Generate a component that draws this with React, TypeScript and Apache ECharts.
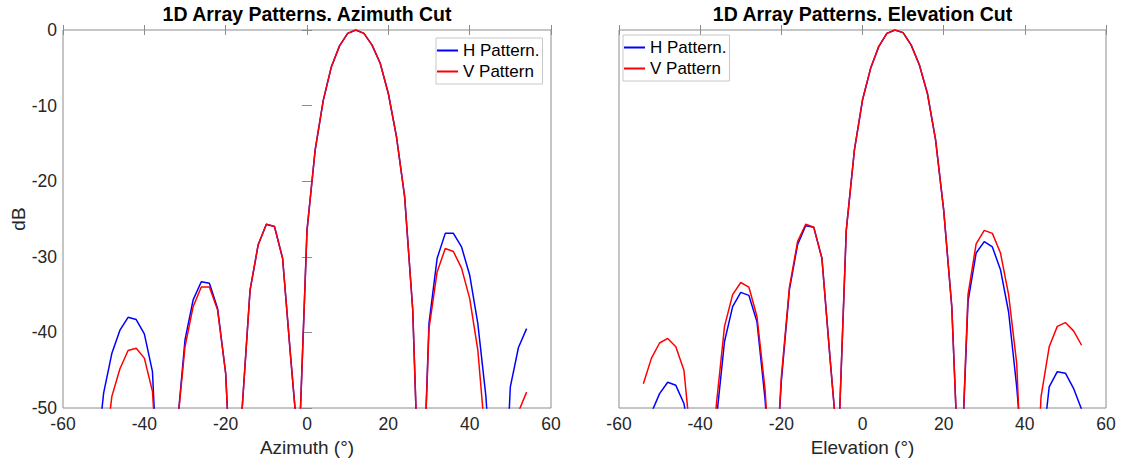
import React, { useEffect, useRef } from "react";
import * as echarts from "echarts";

const ANGLES = [-54, -52, -50, -48, -46, -44, -42, -40, -38, -36, -34, -32, -30, -28, -26, -24, -22, -20, -18, -16, -14, -12, -10, -8, -6, -4, -2, 0, 2, 4, 6, 8, 10, 12, 14, 16, 18, 20, 22, 24, 26, 28, 30, 32, 34, 36, 38, 40, 42, 44, 46, 48, 50, 52, 54];

const AZ_H = [-62, -58, -48, -42.8, -39.7, -38, -38.3, -40.2, -45.2, -68, -60, -53, -41, -35.7, -33.3, -33.5, -36.8, -45.4, -68, -50.5, -34.4, -28.4, -25.7, -26, -30.2, -43.4, -56, -26.5, -15.9, -9.3, -4.85, -2.1, -0.44, 0, -0.44, -2, -4.4, -8.4, -14.1, -22, -37, -70, -38.8, -30.2, -26.9, -26.9, -28.7, -32.4, -38.8, -48.5, -65, -70, -47.2, -42, -39.5];
const AZ_V = [-70, -65, -58, -48.5, -44.8, -42.4, -42.1, -43.4, -47.8, -65, -60, -53, -41.9, -36.6, -34, -34, -37, -45.4, -68, -50.5, -34.4, -28.4, -25.7, -26, -30.2, -43.4, -56, -26.5, -15.9, -9.3, -4.85, -2.1, -0.44, 0, -0.44, -2, -4.4, -8.4, -14.1, -22, -37, -70, -39.5, -32, -28.9, -29.3, -31.5, -35.5, -42.3, -55, -65, -70, -62, -50.5, -47.9];
const EL_H = [-55, -50.6, -48.1, -46.6, -47, -49.4, -55.4, -65, -62, -51.5, -41.2, -36.6, -34.7, -35.1, -38.6, -48.9, -65, -46.5, -34.3, -28.4, -25.9, -26.1, -30.2, -43.4, -56, -26.5, -15.9, -9.26, -5.07, -2.2, -0.44, 0, -0.35, -2, -4.6, -8.4, -14.5, -23.8, -36.6, -63, -35.9, -29.5, -28, -28.7, -31.7, -37.3, -47.2, -60, -70, -57, -47.2, -45.2, -45.4, -47.4, -50.2];
const EL_V = [-46.8, -43.4, -41.4, -40.8, -41.9, -45, -56, -65, -62, -49.5, -39.2, -35, -33.4, -34, -37.9, -47.6, -65, -45.9, -34, -28, -25.7, -26.1, -30.2, -43.4, -56, -26.5, -15.9, -9.26, -5.07, -2.2, -0.44, 0, -0.35, -2, -4.6, -8.4, -14.5, -23.8, -36.6, -63, -35, -28.3, -26.5, -26.9, -29.5, -35, -44.1, -70, -70, -48.5, -41.9, -39.2, -38.7, -39.8, -41.7];

const TITLES = ["1D Array Patterns. Azimuth Cut", "1D Array Patterns. Elevation Cut"];
const X_NAMES = ["Azimuth (°)", "Elevation (°)"];
const Y_NAME = "dB";
const SERIES_NAMES = ["H Pattern.", "V Pattern"];

const FONT = "'Liberation Sans', Arial, Helvetica, sans-serif";
const AXIS_GRAY = "#8c8c8c";
const TEXT = "#262626";

export default function App() {
  const ref = useRef<HTMLDivElement>(null);
  useEffect(() => {
    if (!ref.current) return;
    const chart = echarts.init(ref.current, undefined, { renderer: "svg" });
    const grids = [
      { left: 63, top: 30, width: 488, height: 378 },
      { left: 619, top: 30, width: 487, height: 378 },
    ];
    const xAxes: any[] = [];
    const yAxes: any[] = [];
    grids.forEach((_, g) => {
      xAxes.push({
        type: "value", gridIndex: g, min: -60, max: 60, interval: 20, position: "bottom",
        axisLine: { show: false },
        axisTick: { show: true, inside: true, length: 5, lineStyle: { color: AXIS_GRAY } },
        axisLabel: { color: TEXT, fontSize: 17.5, fontFamily: FONT, margin: 7 },
        splitLine: { show: false },
        name: X_NAMES[g], nameLocation: "middle", nameGap: 28,
        nameTextStyle: { color: TEXT, fontSize: 19, fontFamily: FONT },
      });
      xAxes.push({
        type: "value", gridIndex: g, min: -60, max: 60, interval: 20, position: "top",
        axisLine: { show: false },
        axisTick: { show: true, inside: true, length: 5, lineStyle: { color: AXIS_GRAY } },
        axisLabel: { show: false }, splitLine: { show: false },
      });
      yAxes.push({
        type: "value", gridIndex: g, min: -50, max: 0, interval: 10, position: "left",
        axisLine: { show: false },
        axisTick: { show: g === 0, inside: true, length: 5, lineStyle: { color: AXIS_GRAY } },
        axisLabel: { show: g === 0, color: TEXT, fontSize: 17.5, fontFamily: FONT, margin: 6 },
        splitLine: { show: false },
        name: g === 0 ? Y_NAME : "", nameLocation: "middle", nameGap: 33,
        nameTextStyle: { color: TEXT, fontSize: 19, fontFamily: FONT },
      });
      yAxes.push({
        type: "value", gridIndex: g, min: -50, max: 0, interval: 10, position: "right",
        axisLine: { show: false },
        axisTick: { show: g === 0, inside: true, length: 5, lineStyle: { color: AXIS_GRAY } },
        axisLabel: { show: false }, splitLine: { show: false },
      });
    });
    const mk = (vals: number[]) => ANGLES.map((a, i) => [a, vals[i]]);
    const lineSeries = (name: string, color: string, vals: number[], g: number) => ({
      type: "line", name, xAxisIndex: g * 2, yAxisIndex: g * 2, data: mk(vals),
      showSymbol: false, symbol: "none", clip: true,
      lineStyle: { color, width: 1.5 }, itemStyle: { color }, z: name === SERIES_NAMES[1] ? 3 : 2,
    });
    const legendBase = {
      orient: "vertical", itemWidth: 21, itemHeight: 2, icon: "rect", itemGap: 4,
      data: SERIES_NAMES, borderColor: "#c8c8c8", borderWidth: 1, borderRadius: 0,
      backgroundColor: "#fff", padding: [4, 3, 4, 1],
      textStyle: { color: "#000", fontSize: 17, fontFamily: FONT },
    };
    chart.setOption({
      animation: false,
      backgroundColor: "#fff",
      grid: grids.map((r) => ({ ...r, show: true, borderColor: AXIS_GRAY, borderWidth: 1, backgroundColor: "transparent" })),
      xAxis: xAxes,
      yAxis: yAxes,
      legend: [
        { ...legendBase, left: 436, top: 38 },
        { ...legendBase, left: 623, top: 35 },
      ],
      graphic: TITLES.map((t, g) => ({
        type: "text", x: grids[g].left + grids[g].width / 2, y: 4,
        style: { text: t, fill: "#000", font: `bold 19.5px ${FONT}`, textAlign: "center", textVerticalAlign: "top" },
      })),
      series: [
        lineSeries(SERIES_NAMES[0], "#0000ff", AZ_H, 0),
        lineSeries(SERIES_NAMES[1], "#ff0000", AZ_V, 0),
        lineSeries(SERIES_NAMES[0], "#0000ff", EL_H, 1),
        lineSeries(SERIES_NAMES[1], "#ff0000", EL_V, 1),
      ],
    });
    return () => chart.dispose();
  }, []);
  return <div ref={ref} style={{ position: "absolute", left: 0, top: 0, width: 1124, height: 463 }} />;
}
